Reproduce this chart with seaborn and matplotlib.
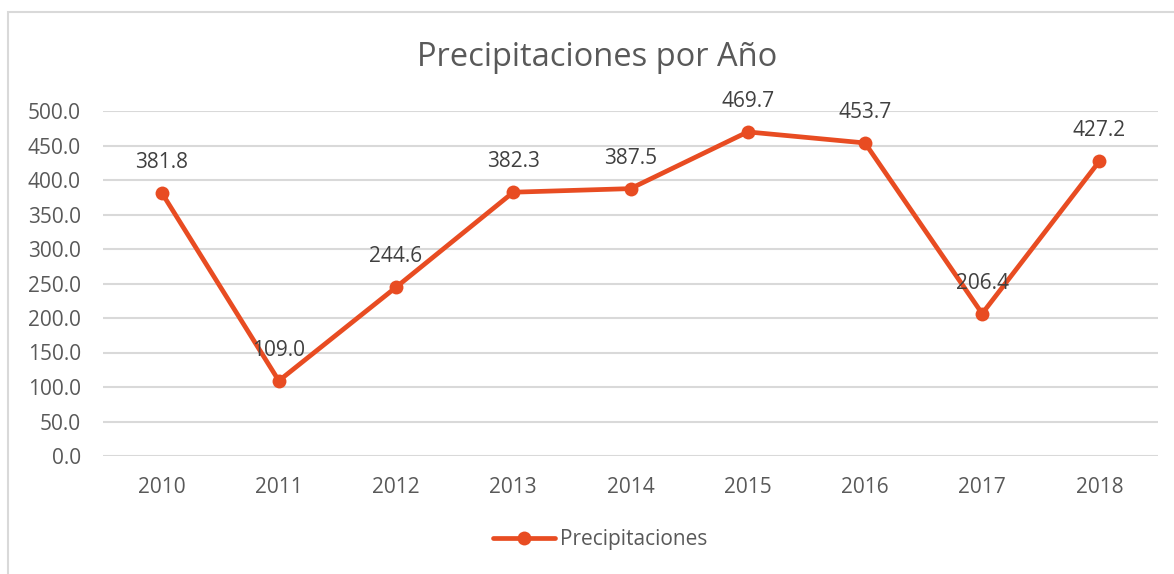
import pandas as pd
import seaborn as sns
import matplotlib.pyplot as plt
from matplotlib.patches import Rectangle

years = ["2010", "2011", "2012", "2013", "2014", "2015", "2016", "2017", "2018"]
precip = [381.8, 109.0, 244.6, 382.3, 387.5, 469.7, 453.7, 206.4, 427.2]
y_ticks = [0, 50, 100, 150, 200, 250, 300, 350, 400, 450, 500]

LINE_COLOR = "#E84C22"
TICK_COLOR = "#595959"
LABEL_COLOR = "#404040"

sns.set_theme(style="white")
plt.rcParams["font.family"] = ["Open Sans", "DejaVu Sans"]

df = pd.DataFrame({"year": years, "precip": precip})
df["pos"] = range(len(years))

fig = plt.figure(figsize=(11.74, 5.74), dpi=100)
ax = fig.add_axes([103 / 1174, 1 - 456 / 574, (1158 - 103) / 1174, (456 - 111) / 574])

# chart border
fig.patches.append(Rectangle((8 / 1174, -0.05), 1.2, 1 - 12 / 574 + 0.05,
                             transform=fig.transFigure, fill=False,
                             edgecolor="#D9D9D9", linewidth=1.5))

sns.lineplot(data=df, x="pos", y="precip", ax=ax, color=LINE_COLOR, linewidth=3.4,
             marker="o", markersize=10, markeredgewidth=0, label="Precipitaciones")

for x, v in zip(df["pos"], df["precip"]):
    ax.annotate(f"{v:.1f}", (x, v), xytext=(0, 22), textcoords="offset points",
                ha="center", va="center", fontsize=15, color=LABEL_COLOR)

ax.set_xlim(-0.5, len(years) - 0.5)
ax.set_ylim(0, 500)
ax.set_xticks(df["pos"])
ax.set_xticklabels(years)
ax.set_yticks(y_ticks)
ax.set_yticklabels([f"{t:.1f}" for t in y_ticks])
ax.tick_params(axis="both", length=0, labelsize=15, colors=TICK_COLOR)
ax.tick_params(axis="x", pad=15)
ax.tick_params(axis="y", pad=16)
ax.yaxis.grid(True, color="#D9D9D9", linewidth=1.5)
ax.set_axisbelow(True)
for s in ax.spines.values():
    s.set_visible(False)
ax.set_xlabel("")
ax.set_ylabel("")

fig.text(597 / 1174, 1 - 58 / 574, "Precipitaciones por Año", ha="center", va="center",
         fontsize=23.5, color=TICK_COLOR)

leg = ax.legend(loc="center", bbox_to_anchor=(600 / 1174, 1 - 540 / 574),
                bbox_transform=fig.transFigure, frameon=False, fontsize=15,
                handlelength=3, handletextpad=0.2)
for t in leg.get_texts():
    t.set_color(TICK_COLOR)

fig.savefig("out.png", dpi=100)
